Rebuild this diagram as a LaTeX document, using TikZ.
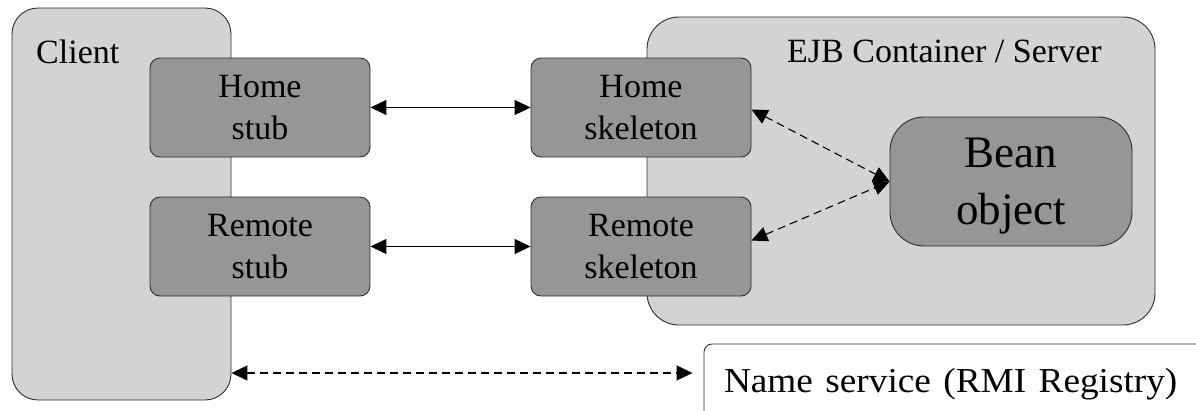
\documentclass[tikz,border=0pt]{standalone}
\usepackage{fontspec}
\usepackage{graphicx}
\setmainfont{Liberation Serif}
\usetikzlibrary{arrows.meta}
\definecolor{lightbox}{RGB}{211,211,211}
\definecolor{darkbox}{RGB}{150,150,150}
\definecolor{edgecol}{RGB}{45,45,45}
\begin{document}
\begin{tikzpicture}[x=1pt,y=-1pt,
  container/.style={draw=edgecol, line width=0.9pt, fill=lightbox, inner sep=0pt},
  stubbox/.style={draw=edgecol, line width=0.9pt, fill=darkbox, rounded corners=10pt,
    minimum width=220pt, minimum height=99pt, inner sep=0pt, align=center,
    font=\fontsize{34}{42}\selectfont},
  beanbox/.style={draw=edgecol, line width=0.9pt, fill=darkbox, rounded corners=34pt,
    minimum width=242pt, minimum height=129pt, inner sep=0pt, align=center,
    text depth=0pt, font=\fontsize{45}{57}\selectfont},
  namebox/.style={draw=edgecol, line width=0.9pt, fill=white, rounded corners=8pt,
    minimum height=80pt, text width=471pt, inner xsep=20pt, inner ysep=0pt, align=left,
    font=\fontsize{35}{40}\selectfont},
  title/.style={font=\fontsize{34}{40}\selectfont, inner sep=0pt, anchor=base west},
  link/.style={line width=1.1pt, {Triangle[length=16pt,width=15pt]}-{Triangle[length=16pt,width=15pt]}},
  dlink/.style={link, dash pattern=on 8pt off 5pt}
]
\useasboundingbox (0,0) rectangle (1196,410);
\clip (0,0) rectangle (1196,410);
% containers
\node[container, rounded corners=26pt, minimum width=219pt, minimum height=392pt] (client) at (121.5,204) {};
\node[container, rounded corners=32pt, minimum width=508pt, minimum height=308pt] (ejb) at (901,171) {};
\node[title] (clientlbl) at (36,63) {Client};
\node[title] (ejblbl) at (787,62) {EJB Container / Server};
% stubs and skeletons
\node[stubbox] (hstub) at (260,107.5) {Home\\stub};
\node[stubbox] (rstub) at (260,246.5) {Remote\\stub};
\node[stubbox] (hskel) at (641,107.5) {Home\\skeleton};
\node[stubbox] (rskel) at (641,246.5) {Remote\\skeleton};
\node[beanbox] (bean) at (1011,181.5) {Bean\\object};
% name service
\node[namebox] (names) at (959.5,384) {\scalebox{1.065}[1]{Name service (RMI Registry)}};
% connectors
\draw[link] (hstub.east) -- (hskel.west);
\draw[link] (rstub.east) -- (rskel.west);
\draw[dlink] ([yshift=-2pt]hskel.east) -- (bean.west);
\draw[dlink] ([yshift=6pt]rskel.east) -- (bean.west);
\coordinate (nsy) at (0,373);
\draw[dlink, shorten >=11pt] (client.east |- nsy) -- (names.west |- nsy);
\end{tikzpicture}
\end{document}
